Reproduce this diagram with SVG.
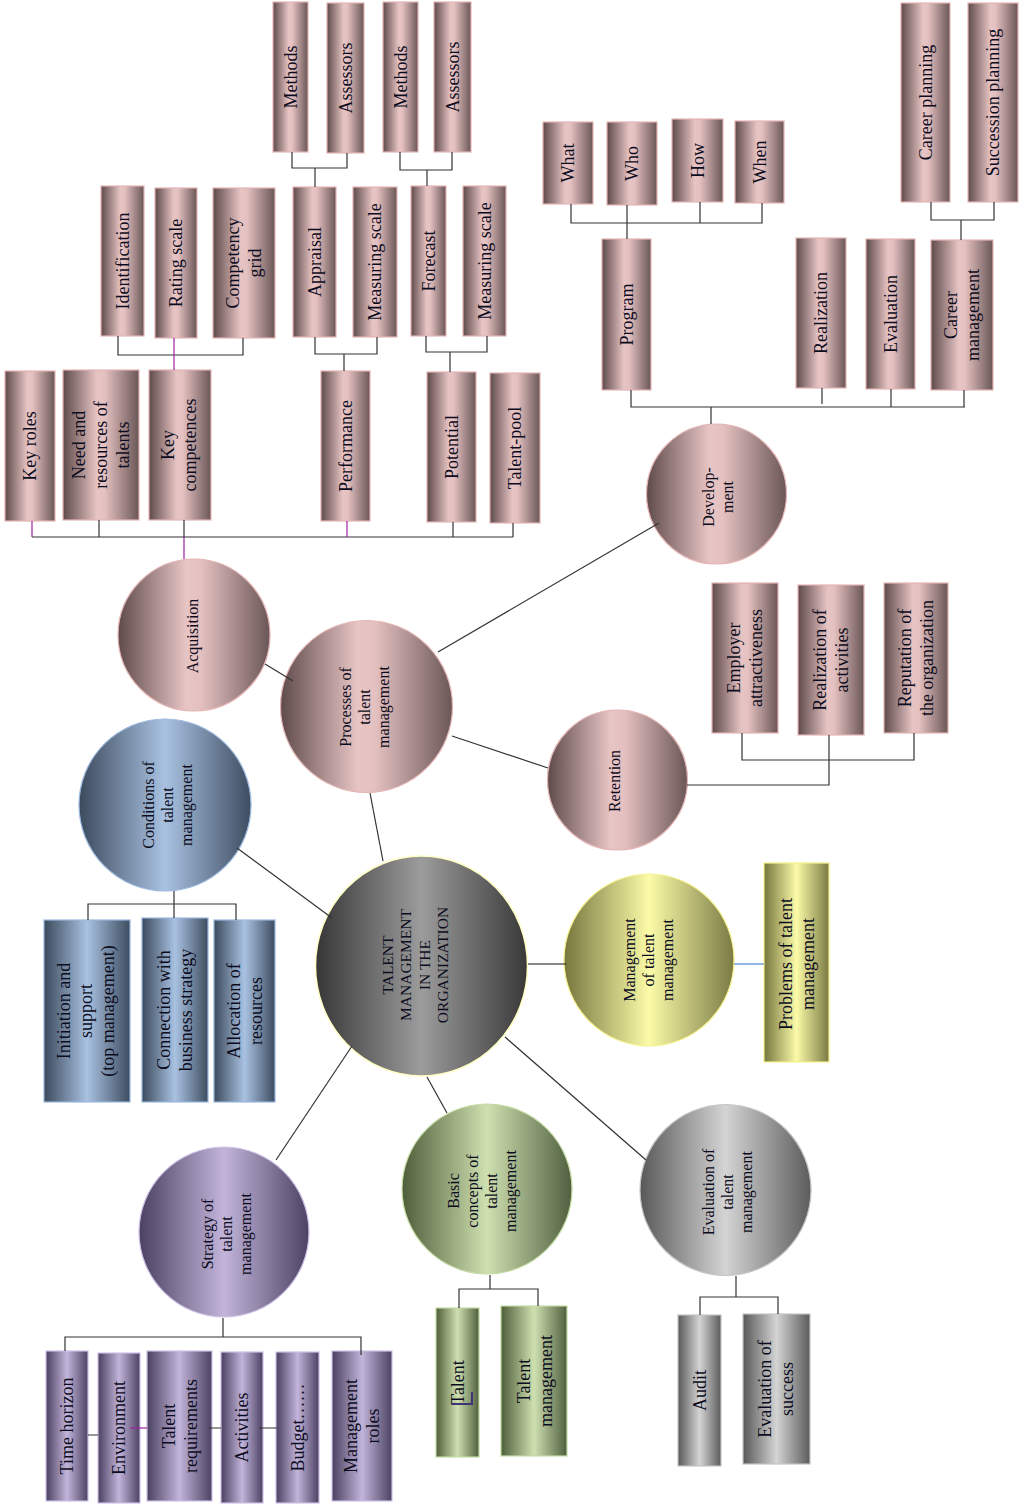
<svg xmlns="http://www.w3.org/2000/svg" width="1019" height="1507" viewBox="0 0 1019 1507">
<defs>
<linearGradient id="gPink" x1="0" y1="0" x2="1" y2="0">
<stop offset="0" stop-color="#5e4a4a"/><stop offset="0.45" stop-color="#e8c5c5"/><stop offset="0.55" stop-color="#e4c0c0"/><stop offset="1" stop-color="#6a5656"/>
</linearGradient>
<linearGradient id="gBlue" x1="0" y1="0" x2="1" y2="0">
<stop offset="0" stop-color="#3c4a5c"/><stop offset="0.5" stop-color="#a9c2e2"/><stop offset="1" stop-color="#3e4d60"/>
</linearGradient>
<linearGradient id="gDark" x1="0" y1="0" x2="1" y2="0">
<stop offset="0" stop-color="#363636"/><stop offset="0.5" stop-color="#9c9c9c"/><stop offset="1" stop-color="#383838"/>
</linearGradient>
<linearGradient id="gYellow" x1="0" y1="0" x2="1" y2="0">
<stop offset="0" stop-color="#76763e"/><stop offset="0.5" stop-color="#fbfba8"/><stop offset="1" stop-color="#7a7a44"/>
</linearGradient>
<linearGradient id="gPurple" x1="0" y1="0" x2="1" y2="0">
<stop offset="0" stop-color="#4a4060"/><stop offset="0.5" stop-color="#c2b4da"/><stop offset="1" stop-color="#4c4262"/>
</linearGradient>
<linearGradient id="gGreen" x1="0" y1="0" x2="1" y2="0">
<stop offset="0" stop-color="#4e5e3a"/><stop offset="0.5" stop-color="#cfe0b0"/><stop offset="1" stop-color="#506040"/>
</linearGradient>
<linearGradient id="gGrey" x1="0" y1="0" x2="1" y2="0">
<stop offset="0" stop-color="#585858"/><stop offset="0.5" stop-color="#d4d4d4"/><stop offset="1" stop-color="#5c5c5c"/>
</linearGradient>
</defs>
<style>
.pink{fill:url(#gPink);stroke:#e4b4b4;stroke-width:1.2}
.blue{fill:url(#gBlue);stroke:#9ab8de;stroke-width:1.2}
.dark{fill:url(#gDark);stroke:#ffffc4;stroke-width:1.5}
.yel{fill:url(#gYellow);stroke:#f6f28a;stroke-width:1.2}
.pur{fill:url(#gPurple);stroke:#cdc0e4;stroke-width:1.2}
.grn{fill:url(#gGreen);stroke:#c4dca4;stroke-width:1.2}
.gry{fill:url(#gGrey);stroke:#c4c4c4;stroke-width:1.2}
text{font-family:"Liberation Serif","Times New Roman",serif;fill:#0c0c20;text-anchor:middle}
.t{font-size:18px}
.c{font-size:16px}
.k{font-size:15.5px}
#connectors path{fill:none;stroke:#333;stroke-width:1.2}
#connectors path.m{stroke:#a020a0}
#connectors path.b{stroke:#4a86d8}
</style>

<!-- Acquisition branch -->
<g id="methods1"><rect class="pink" x="273" y="2" width="35" height="150"/><text class="t" transform="translate(290.5 77) rotate(-90)"><tspan x="0" dy="6">Methods</tspan></text></g>
<g id="assessors1"><rect class="pink" x="327" y="3" width="37" height="150"/><text class="t" transform="translate(345.5 78) rotate(-90)"><tspan x="0" dy="6">Assessors</tspan></text></g>
<g id="methods2"><rect class="pink" x="383" y="2" width="35" height="150"/><text class="t" transform="translate(400.5 77) rotate(-90)"><tspan x="0" dy="6">Methods</tspan></text></g>
<g id="assessors2"><rect class="pink" x="434" y="2" width="37" height="150"/><text class="t" transform="translate(452.5 77) rotate(-90)"><tspan x="0" dy="6">Assessors</tspan></text></g>
<g id="identification"><rect class="pink" x="101" y="186" width="43" height="150"/><text class="t" transform="translate(122.5 261) rotate(-90)"><tspan x="0" dy="6">Identification</tspan></text></g>
<g id="rating-scale"><rect class="pink" x="155" y="188" width="42" height="150"/><text class="t" transform="translate(176 263) rotate(-90)"><tspan x="0" dy="6">Rating scale</tspan></text></g>
<g id="competency-grid"><rect class="pink" x="213" y="188" width="62" height="150"/><text class="t" transform="translate(244 263) rotate(-90)"><tspan x="0" dy="-5">Competency</tspan><tspan x="0" dy="22">grid</tspan></text></g>
<g id="appraisal"><rect class="pink" x="293" y="187" width="43" height="150"/><text class="t" transform="translate(314.5 262) rotate(-90)"><tspan x="0" dy="6">Appraisal</tspan></text></g>
<g id="measuring-scale1"><rect class="pink" x="353" y="187" width="44" height="150"/><text class="t" transform="translate(375 262) rotate(-90)"><tspan x="0" dy="6">Measuring scale</tspan></text></g>
<g id="forecast"><rect class="pink" x="411" y="186" width="35" height="150"/><text class="t" transform="translate(428.5 261) rotate(-90)"><tspan x="0" dy="6">Forecast</tspan></text></g>
<g id="measuring-scale2"><rect class="pink" x="463" y="186" width="43" height="150"/><text class="t" transform="translate(484.5 261) rotate(-90)"><tspan x="0" dy="6">Measuring scale</tspan></text></g>
<g id="key-roles"><rect class="pink" x="5" y="371" width="50" height="150"/><text class="t" transform="translate(30 446) rotate(-90)"><tspan x="0" dy="6">Key roles</tspan></text></g>
<g id="need-resources"><rect class="pink" x="63" y="370" width="76" height="150"/><text class="t" transform="translate(101 445) rotate(-90)"><tspan x="0" dy="-16">Need and</tspan><tspan x="0" dy="22">resources of</tspan><tspan x="0" dy="22">talents</tspan></text></g>
<g id="key-competences"><rect class="pink" x="149" y="370" width="62" height="150"/><text class="t" transform="translate(179 445) rotate(-90)"><tspan x="0" dy="-5">Key</tspan><tspan x="0" dy="22">competences</tspan></text></g>
<g id="performance"><rect class="pink" x="321" y="371" width="49" height="150"/><text class="t" transform="translate(345.5 446) rotate(-90)"><tspan x="0" dy="6">Performance</tspan></text></g>
<g id="potential"><rect class="pink" x="427" y="372" width="49" height="150"/><text class="t" transform="translate(451.5 447) rotate(-90)"><tspan x="0" dy="6">Potential</tspan></text></g>
<g id="talent-pool"><rect class="pink" x="490" y="373" width="50" height="150"/><text class="t" transform="translate(515 448) rotate(-90)"><tspan x="0" dy="6">Talent-pool</tspan></text></g>
<g id="acquisition"><circle class="pink" cx="194" cy="635" r="76"/><text class="c" transform="translate(192 636) rotate(-90)"><tspan x="0" dy="5.6">Acquisition</tspan></text></g>

<!-- Development branch -->
<g id="what"><rect class="pink" x="543" y="122" width="50" height="82"/><text class="t" transform="translate(568 163) rotate(-90)"><tspan x="0" dy="6">What</tspan></text></g>
<g id="who"><rect class="pink" x="607" y="122" width="50" height="83"/><text class="t" transform="translate(632 163.5) rotate(-90)"><tspan x="0" dy="6">Who</tspan></text></g>
<g id="how"><rect class="pink" x="672" y="119" width="51" height="83"/><text class="t" transform="translate(697.5 160.5) rotate(-90)"><tspan x="0" dy="6">How</tspan></text></g>
<g id="when"><rect class="pink" x="735" y="121" width="49" height="82"/><text class="t" transform="translate(759.5 162) rotate(-90)"><tspan x="0" dy="6">When</tspan></text></g>
<g id="program"><rect class="pink" x="602" y="239" width="49" height="151"/><text class="t" transform="translate(626.5 314.5) rotate(-90)"><tspan x="0" dy="6">Program</tspan></text></g>
<g id="realization"><rect class="pink" x="796" y="238" width="50" height="150"/><text class="t" transform="translate(821 313) rotate(-90)"><tspan x="0" dy="6">Realization</tspan></text></g>
<g id="evaluation"><rect class="pink" x="866" y="239" width="49" height="150"/><text class="t" transform="translate(890.5 314) rotate(-90)"><tspan x="0" dy="6">Evaluation</tspan></text></g>
<g id="career-management"><rect class="pink" x="931" y="240" width="62" height="150"/><text class="t" transform="translate(962 315) rotate(-90)"><tspan x="0" dy="-5">Career</tspan><tspan x="0" dy="22">management</tspan></text></g>
<g id="career-planning"><rect class="pink" x="901" y="3" width="49" height="199"/><text class="t" transform="translate(925.5 102.5) rotate(-90)"><tspan x="0" dy="6">Career planning</tspan></text></g>
<g id="succession-planning"><rect class="pink" x="968" y="3" width="50" height="199"/><text class="t" transform="translate(993 102.5) rotate(-90)"><tspan x="0" dy="6">Succession planning</tspan></text></g>
<g id="development"><circle class="pink" cx="716.5" cy="494" r="70"/><text class="c" transform="translate(718 497) rotate(-90)"><tspan x="0" dy="-4">Develop-</tspan><tspan x="0" dy="19">ment</tspan></text></g>

<!-- Retention branch -->
<g id="employer-attractiveness"><rect class="pink" x="712" y="583" width="66" height="150"/><text class="t" transform="translate(745 658) rotate(-90)"><tspan x="0" dy="-5">Employer</tspan><tspan x="0" dy="22">attractiveness</tspan></text></g>
<g id="realization-activities"><rect class="pink" x="798" y="585" width="66" height="150"/><text class="t" transform="translate(831 660) rotate(-90)"><tspan x="0" dy="-5">Realization of</tspan><tspan x="0" dy="22">activities</tspan></text></g>
<g id="reputation"><rect class="pink" x="884" y="583" width="64" height="150"/><text class="t" transform="translate(916 658) rotate(-90)"><tspan x="0" dy="-5">Reputation of</tspan><tspan x="0" dy="22">the organization</tspan></text></g>
<g id="retention"><circle class="pink" cx="617.5" cy="780" r="70"/><text class="c" transform="translate(614 781) rotate(-90)"><tspan x="0" dy="5.6">Retention</tspan></text></g>

<g id="processes"><circle class="pink" cx="366.5" cy="706.5" r="86"/><text class="c" transform="translate(364.5 707) rotate(-90)"><tspan x="0" dy="-13.4">Processes of</tspan><tspan x="0" dy="19">talent</tspan><tspan x="0" dy="19">management</tspan></text></g>

<!-- Conditions -->
<g id="conditions"><circle class="blue" cx="165" cy="805" r="86"/><text class="c" transform="translate(167 805) rotate(-90)"><tspan x="0" dy="-13.4">Conditions of</tspan><tspan x="0" dy="19">talent</tspan><tspan x="0" dy="19">management</tspan></text></g>
<g id="initiation-support"><rect class="blue" x="44" y="920" width="86" height="182"/><text class="t" transform="translate(86 1011) rotate(-90)"><tspan x="0" dy="-16">Initiation and</tspan><tspan x="0" dy="22">support</tspan><tspan x="0" dy="22">(top management)</tspan></text></g>
<g id="connection-strategy"><rect class="blue" x="142" y="918" width="66" height="184"/><text class="t" transform="translate(175 1010) rotate(-90)"><tspan x="0" dy="-5">Connection with</tspan><tspan x="0" dy="22">business strategy</tspan></text></g>
<g id="allocation-resources"><rect class="blue" x="214" y="920" width="61" height="182"/><text class="t" transform="translate(244.5 1011) rotate(-90)"><tspan x="0" dy="-5">Allocation of</tspan><tspan x="0" dy="22">resources</tspan></text></g>

<!-- Center -->
<g id="talent-management-org"><ellipse class="dark" cx="421.5" cy="966" rx="106" ry="110"/><text class="k" transform="translate(415 965) rotate(-90)"><tspan x="0" dy="-22.5">TALENT</tspan><tspan x="0" dy="18.5">MANAGEMENT</tspan><tspan x="0" dy="18.5">IN THE</tspan><tspan x="0" dy="18.5">ORGANIZATION</tspan></text></g>

<!-- Management -->
<g id="management-of-tm"><ellipse class="yel" cx="649" cy="960" rx="85" ry="86"/><text class="c" transform="translate(648 960) rotate(-90)"><tspan x="0" dy="-13.4">Management</tspan><tspan x="0" dy="19">of talent</tspan><tspan x="0" dy="19">management</tspan></text></g>
<g id="problems"><rect class="yel" x="764" y="863" width="65" height="199"/><text class="t" transform="translate(797 964) rotate(-90)"><tspan x="0" dy="-5">Problems of talent</tspan><tspan x="0" dy="22">management</tspan></text></g>

<!-- Strategy -->
<g id="strategy"><circle class="pur" cx="224" cy="1232" r="85"/><text class="c" transform="translate(226 1234) rotate(-90)"><tspan x="0" dy="-13.4">Strategy of</tspan><tspan x="0" dy="19">talent</tspan><tspan x="0" dy="19">management</tspan></text></g>
<g id="time-horizon"><rect class="pur" x="46" y="1351" width="42" height="150"/><text class="t" transform="translate(67 1426) rotate(-90)"><tspan x="0" dy="6">Time horizon</tspan></text></g>
<g id="environment"><rect class="pur" x="98" y="1353" width="42" height="150"/><text class="t" transform="translate(119 1428) rotate(-90)"><tspan x="0" dy="6">Environment</tspan></text></g>
<g id="talent-requirements"><rect class="pur" x="147" y="1351" width="65" height="150"/><text class="t" transform="translate(179.5 1426) rotate(-90)"><tspan x="0" dy="-5">Talent</tspan><tspan x="0" dy="22">requirements</tspan></text></g>
<g id="activities"><rect class="pur" x="221" y="1352" width="42" height="151"/><text class="t" transform="translate(242 1427.5) rotate(-90)"><tspan x="0" dy="6">Activities</tspan></text></g>
<g id="budget"><rect class="pur" x="276" y="1352" width="43" height="151"/><text class="t" transform="translate(297.5 1427.5) rotate(-90)"><tspan x="0" dy="6">Budget……</tspan></text></g>
<g id="management-roles"><rect class="pur" x="332" y="1351" width="60" height="150"/><text class="t" transform="translate(362 1426) rotate(-90)"><tspan x="0" dy="-5">Management</tspan><tspan x="0" dy="22">roles</tspan></text></g>

<!-- Basic concepts -->
<g id="basic-concepts"><circle class="grn" cx="487" cy="1189" r="85"/><text class="c" transform="translate(482 1191) rotate(-90)"><tspan x="0" dy="-23">Basic</tspan><tspan x="0" dy="19">concepts of</tspan><tspan x="0" dy="19">talent</tspan><tspan x="0" dy="19">management</tspan></text></g>
<g id="talent"><rect class="grn" x="436" y="1308" width="43" height="149"/><text class="t" transform="translate(457.5 1382.5) rotate(-90)"><tspan x="0" dy="6">Talent</tspan></text><path d="M452 1404 H473 M472 1392 V1405" fill="none" stroke="#3e3578" stroke-width="2"/></g>
<g id="talent-management"><rect class="grn" x="501" y="1306" width="66" height="150"/><text class="t" transform="translate(535 1381) rotate(-90)"><tspan x="0" dy="-5">Talent</tspan><tspan x="0" dy="22">management</tspan></text></g>

<!-- Evaluation -->
<g id="evaluation-tm"><circle class="gry" cx="725.5" cy="1190" r="85.5"/><text class="c" transform="translate(727 1192) rotate(-90)"><tspan x="0" dy="-13.4">Evaluation of</tspan><tspan x="0" dy="19">talent</tspan><tspan x="0" dy="19">management</tspan></text></g>
<g id="audit"><rect class="gry" x="678" y="1315" width="43" height="151"/><text class="t" transform="translate(699.5 1390.5) rotate(-90)"><tspan x="0" dy="6">Audit</tspan></text></g>
<g id="evaluation-success"><rect class="gry" x="743" y="1314" width="67" height="150"/><text class="t" transform="translate(776 1389) rotate(-90)"><tspan x="0" dy="-5">Evaluation of</tspan><tspan x="0" dy="22">success</tspan></text></g>

<g id="connectors">
<!-- radial -->
<path d="M265 664 L293 681"/>
<path d="M438 652 L659 523"/>
<path d="M452 736 L548 768"/>
<path d="M370 793 L383 861"/>
<path d="M237 848 L332 918"/>
<path d="M528 964 H566" style="stroke:#111"/>
<path class="b" d="M734 964 H764"/>
<path d="M352 1046 L276 1160"/>
<path d="M427 1077 L447 1113"/>
<path d="M505 1037 L646 1160"/>
<!-- acquisition tree -->
<path d="M32 537 H513"/>
<path d="M99 520 V537 M184 520 V537 M453 522 V537 M513 523 V537"/>
<path class="m" d="M32 521 V537 M347 521 V537 M184 537 V559"/>
<path d="M118 336 V355 H243 V338"/>
<path class="m" d="M174 338 V370"/>
<path d="M315 337 V354 H377 V337 M344 354 V371"/>
<path d="M426 336 V352 H487 V336 M450 352 V372"/>
<path d="M292 152 V168 H347 V153 M315 168 V187"/>
<path d="M400 152 V170 H452 V152 M427 170 V186"/>
<!-- development tree -->
<path d="M631 390 V407 H965 M822 388 V404 M891 389 V407 M964 390 V407 M711 407 V424"/>
<path d="M571 204 V223 H762 V203 M627 205 V239 M700 202 V223"/>
<path d="M931 202 V220 H994 V202 M961 220 V240"/>
<!-- retention tree -->
<path d="M687 785 H829 V735"/>
<path d="M742 733 V760 H914 V733"/>
<!-- conditions tree -->
<path d="M174 891 V918 M88 920 V904 H236 V920"/>
<!-- basic tree -->
<path d="M490 1275 V1289 M459 1308 V1289 H538 V1306"/>
<!-- evaluation tree -->
<path d="M736 1276 V1297 M700 1315 V1297 H778 V1314"/>
<!-- strategy tree -->
<path d="M223 1318 V1337 M65 1351 V1337 H361 V1355"/>
<path d="M88 1435 H98 M209 1428 H221 M259 1428 H277"/>
<path class="m" d="M130 1428 H147"/>
</g>
</svg>
